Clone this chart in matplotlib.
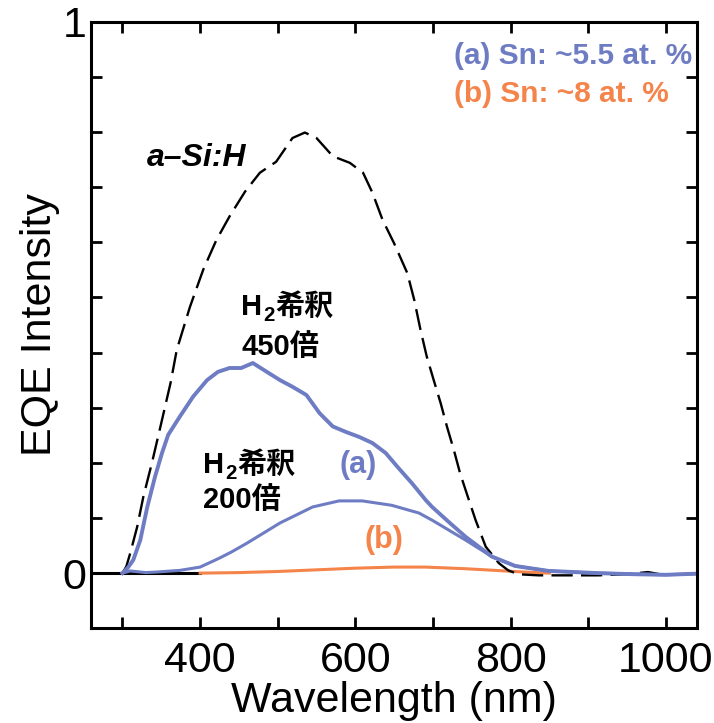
#!/usr/bin/env python3

import numpy as np
import matplotlib
matplotlib.use('Agg')
import matplotlib.pyplot as plt
from matplotlib.ticker import MultipleLocator, FixedLocator

#------------------------------------------------------------------------
# data

# a-Si:H reference (black dashed)
asi_wl = [300, 305, 310, 319, 327, 338, 349, 362, 370, 387, 404, 421, 438,
          458, 477, 498, 519, 535, 550, 571, 593, 610, 622, 635, 650, 667,
          676, 684, 692, 701, 710, 718, 727, 735, 742, 755, 768, 785, 797,
          810, 836, 870, 913, 950, 977, 1000]
asi_eqe = [0.0, 0.012, 0.036, 0.084, 0.139, 0.200, 0.266, 0.345, 0.405,
           0.483, 0.550, 0.604, 0.647, 0.692, 0.726, 0.746, 0.789, 0.799,
           0.789, 0.756, 0.744, 0.726, 0.690, 0.641, 0.598, 0.544, 0.495,
           0.441, 0.393, 0.350, 0.308, 0.266, 0.223, 0.181, 0.151, 0.096,
           0.048, 0.018, 0.005, -0.002, -0.004, -0.004, -0.004, -0.002,
           0.002, -0.004]

# (a) Sn ~5.5 at.%, H2 dilution x450
a450_wl = [300, 307, 314, 323, 332, 342, 351, 359, 374, 391, 409, 423, 438,
           453, 468, 486, 503, 519, 537, 554, 571, 588, 605, 622, 639, 656,
           673, 691, 699, 721, 742, 776, 806, 849, 913, 960, 1000, 1040]
a450_eqe = [0.0, 0.010, 0.024, 0.060, 0.120, 0.175, 0.218, 0.251, 0.284,
            0.320, 0.350, 0.365, 0.372, 0.372, 0.381, 0.365, 0.350, 0.338,
            0.323, 0.290, 0.266, 0.256, 0.247, 0.236, 0.218, 0.190, 0.163,
            0.132, 0.120, 0.092, 0.066, 0.030, 0.013, 0.004, 0.0, -0.002,
            -0.003, -0.001]

# (a) Sn ~5.5 at.%, H2 dilution x200
a200_wl = [300, 310, 330, 344, 374, 400, 417, 426, 440, 460, 503, 545, 579,
           609, 647, 682, 699, 742, 776, 806, 849, 913, 1000, 1040]
a200_eqe = [0.0, 0.004, 0.001, 0.002, 0.005, 0.011, 0.022, 0.028, 0.038,
            0.054, 0.091, 0.120, 0.131, 0.131, 0.123, 0.109, 0.096, 0.060,
            0.030, 0.013, 0.004, 0.0, -0.003, -0.001]

# (b) Sn ~8 at.%
b_wl = [400, 450, 500, 550, 600, 650, 690, 742, 780, 818, 850]
b_eqe = [0.0, 0.001, 0.003, 0.006, 0.009, 0.011, 0.011, 0.008, 0.005,
         0.002, 0.0]

# zero baseline left of 400 nm
base_wl = [260, 400]
base_eqe = [0.0, 0.0]

#------------------------------------------------------------------------

BLUE = '#6e7cc3'
ORANGE = '#f5844a'
LATIN = 'Liberation Sans'
MIXED = ['Liberation Sans', 'DejaVu Sans', 'Noto Sans CJK JP']

def dilution_label(ax, x, y, y2, second, fs=21):
    # "H" + lowered "2" + "希釈", then the ratio line below
    r = ax.figure.canvas.get_renderer()
    t1 = ax.text(x, y, 'H', fontsize=fs, fontweight='bold', family=LATIN,
                 va='baseline', ha='left')
    w1 = t1.get_window_extent(r).width
    t2 = ax.annotate('2', (x, y), xytext=(w1 + 1, -6),
                     textcoords='offset pixels', fontsize=fs * 0.7,
                     fontweight='bold', family=LATIN, va='baseline')
    w2 = t2.get_window_extent(r).width
    ax.annotate('希釈', (x, y), xytext=(w1 + w2 + 2, 0),
                textcoords='offset pixels', fontsize=fs, fontweight='bold',
                family=MIXED, va='baseline')
    ax.text(x, y2, second, fontsize=fs, fontweight='bold', family=MIXED,
            va='baseline', ha='left')

def main():
    plt.rcParams['font.family'] = MIXED

    fig = plt.figure(figsize=(7.14, 7.23), dpi=100)
    ax = fig.add_axes([0.128, 0.131, 0.848, 0.839])

    ax.plot(base_wl, base_eqe, color='black', lw=2.2)
    ax.plot(b_wl, b_eqe, color=ORANGE, lw=2.2)
    ax.plot(asi_wl, asi_eqe, color='black', lw=1.7, dashes=(9, 3.5))
    ax.plot(a200_wl, a200_eqe, color=BLUE, lw=2.2)
    ax.plot(a450_wl, a450_eqe, color=BLUE, lw=2.8)

    ax.set_xlim(260, 1040)
    ax.set_ylim(-0.1, 1.0)

    ax.xaxis.set_major_locator(FixedLocator([400, 600, 800, 1000]))
    ax.xaxis.set_minor_locator(FixedLocator([300, 500, 700, 900]))
    ax.yaxis.set_major_locator(FixedLocator([0, 1]))
    ax.yaxis.set_minor_locator(MultipleLocator(0.1))
    ax.set_yticklabels(['0', '1'])

    for which in ('major', 'minor'):
        ax.tick_params(which=which, direction='in', length=8, width=2,
                       top=True, right=True)
    ax.tick_params(which='major', labelsize=31)
    ax.tick_params(axis='x', which='major', pad=9)
    for lab in ax.get_xticklabels() + ax.get_yticklabels():
        lab.set_family(LATIN)
    for sp in ax.spines.values():
        sp.set_linewidth(2.2)

    ax.set_xlabel('Wavelength (nm)', fontsize=31, family=LATIN, labelpad=0)
    ax.set_ylabel('EQE Intensity', fontsize=31, family=LATIN, labelpad=2)

    ax.text(332, 0.753, 'a\u2013Si:H', fontsize=23, fontweight='bold',
            style='italic', family=LATIN, va='center', ha='left')
    dilution_label(ax, 453, 0.468, 0.396, '450倍')
    dilution_label(ax, 404, 0.181, 0.118, '200倍')
    ax.text(603, 0.196, '(a)', fontsize=22, fontweight='bold', color=BLUE,
            family=LATIN, ha='center', va='center')
    ax.text(637, 0.06, '(b)', fontsize=22, fontweight='bold', color=ORANGE,
            family=LATIN, ha='center', va='center')

    ax.text(727, 0.937, '(a) Sn: ~5.5 at. %', fontsize=21.5, fontweight='bold',
            color=BLUE, family=LATIN, ha='left', va='center')
    ax.text(727, 0.868, '(b) Sn: ~8 at. %', fontsize=21.5, fontweight='bold',
            color=ORANGE, family=LATIN, ha='left', va='center')

    fig.savefig('out.png', dpi=100)

#------------------------------------------------------------------------

if __name__ == "__main__":
    main()
